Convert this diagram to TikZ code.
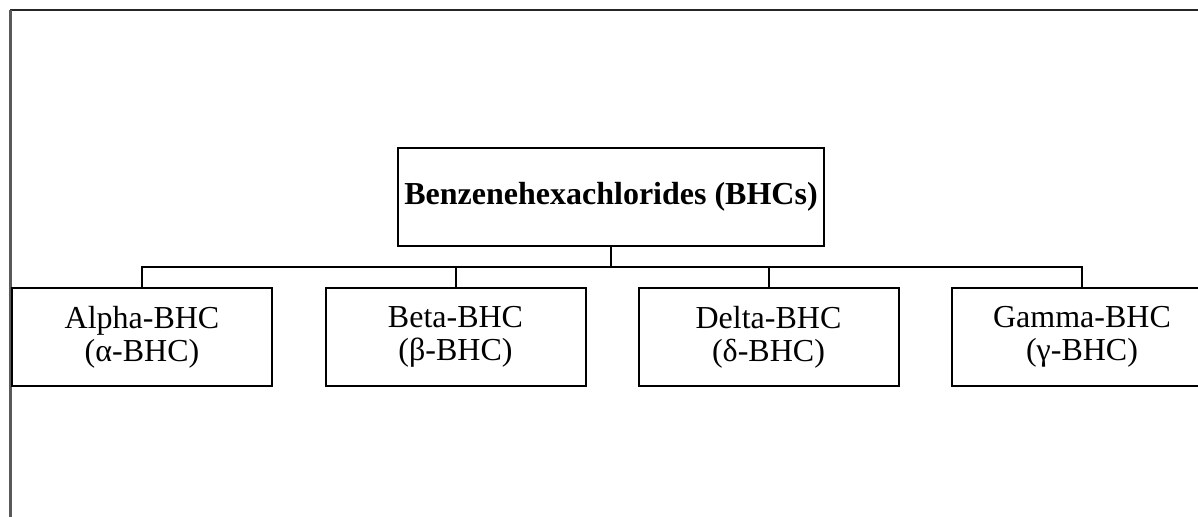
\documentclass[tikz,border=0pt]{standalone}
\usepackage{fontspec}
\setmainfont{Liberation Serif}
\begin{document}
\begin{tikzpicture}[x=0.5pt,y=-0.5pt,
  kid/.style={draw, line width=1pt, minimum width=130pt, minimum height=49pt, inner sep=0pt, align=center, font=\fontsize{16}{16.5}\selectfont},
  top/.style={draw, line width=1pt, minimum width=213pt, minimum height=49pt, inner sep=0pt, align=center, font=\fontsize{16}{16}\selectfont\bfseries},
  link/.style={line width=1pt}]
\useasboundingbox (0,0) rectangle (1198,517);
\clip (0,0) rectangle (1198,517);
\fill[white] (0,0) rectangle (1198,517);
\draw[line width=1pt, black!85] (1198,10.5) -- (10,10.5);
\draw[line width=1.5pt, black!65] (10.5,10) -- (10.5,517);
\node[top] (title) at (611,197) {Benzenehexachlorides (BHCs)};
\node[kid] (alpha) at (142,337) {Alpha-BHC\\(α-BHC)};
\node[kid] (beta) at (455.5,337) {Beta-BHC\\(β-BHC)};
\node[kid] (delta) at (768.5,337) {Delta-BHC\\(δ-BHC)};
\node[kid] (gamma) at (1082,337) {Gamma-BHC\\(γ-BHC)};
\coordinate (bar) at (611,267);
\draw[link] (title.south) -- (bar);
\draw[link] (bar) -| (alpha.north);
\draw[link] (bar) -| (beta.north);
\draw[link] (bar) -| (delta.north);
\draw[link] (bar) -| (gamma.north);
\end{tikzpicture}
\end{document}
